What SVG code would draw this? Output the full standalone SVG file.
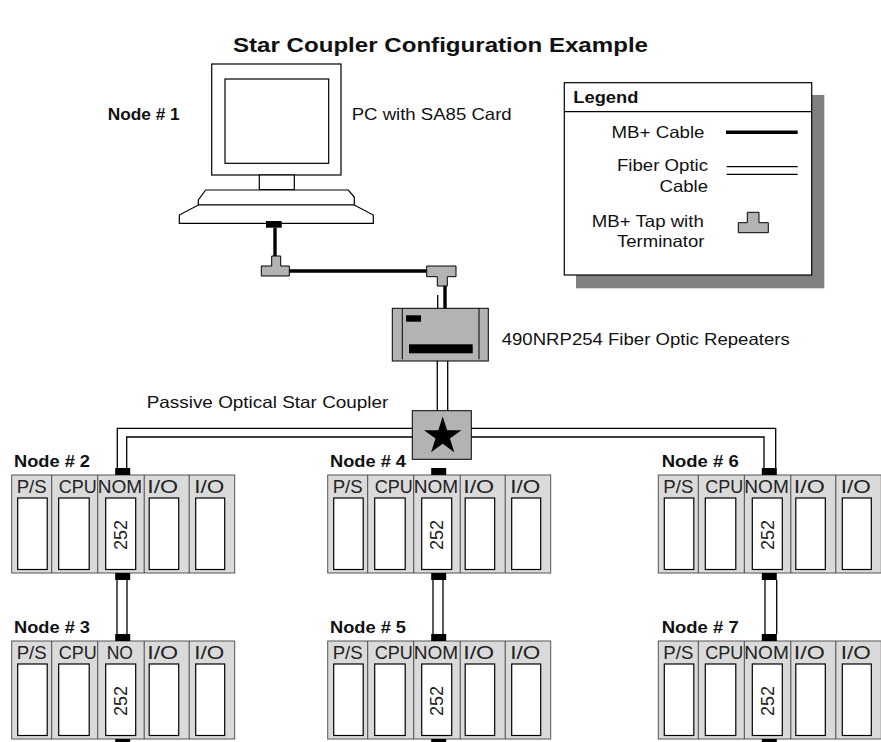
<svg xmlns="http://www.w3.org/2000/svg" xmlns:xlink="http://www.w3.org/1999/xlink" width="881" height="742" viewBox="0 0 881 742">
  <style>
    text { font-family: "Liberation Sans", Arial, Helvetica, sans-serif; fill: #111; }
    .title { font-size: 19.5px; font-weight: bold; }
    .bold { font-size: 16px; font-weight: bold; }
    .lbl { font-size: 16.5px; }
    .slot { font-size: 17.5px; fill: #222; }
    .num { font-size: 18px; fill: #222; }
    .outline { fill: #fff; stroke: #000; stroke-width: 1.2; }
    .gray { fill: #b3b3b3; stroke: #000; stroke-width: 1; }
    .rack { fill: #dadada; stroke: #555; stroke-width: 1; }
    .div { stroke: #444; stroke-width: 1; }
    .win { fill: #fff; stroke: #000; stroke-width: 1.2; }
    .plug { fill: #000; }
    .mb { fill: none; stroke: #000; stroke-width: 3.4; }
    .fiber { fill: none; stroke: #000; stroke-width: 1.3; }
  </style>
  <defs>
    <!-- chassis body shared by every rack node -->
    <g id="rackBody">
      <rect class="rack" x="0" y="0" width="223" height="98"/>
      <line class="div" x1="40" y1="0" x2="40" y2="98"/>
      <line class="div" x1="86" y1="0" x2="86" y2="98"/>
      <line class="div" x1="132.5" y1="0" x2="132.5" y2="98"/>
      <line class="div" x1="177.5" y1="0" x2="177.5" y2="98"/>
      <rect class="win" x="6" y="23" width="29.5" height="71.5"/>
      <rect class="win" x="47" y="23" width="30.5" height="71.5"/>
      <rect class="win" x="94" y="23" width="30" height="71.5"/>
      <rect class="win" x="137.5" y="23" width="29.5" height="71.5"/>
      <rect class="win" x="184" y="23" width="29" height="71.5"/>
      <!-- network port plugs, top and bottom -->
      <rect class="plug" x="103.5" y="-7" width="15" height="7"/>
      <rect class="plug" x="103.5" y="98" width="15" height="7"/>
    </g>
  </defs>

  <text class="title" x="233" y="52" textLength="415" lengthAdjust="spacingAndGlyphs">Star Coupler Configuration Example</text>

  <!-- Node 1: PC -->
  <g id="node1">
    <text class="bold" x="107.7" y="120" textLength="72" lengthAdjust="spacingAndGlyphs">Node # 1</text>
    <text class="lbl" x="351.7" y="120" textLength="160" lengthAdjust="spacingAndGlyphs">PC with SA85 Card</text>
    <rect class="outline" x="211.7" y="64" width="129.3" height="111"/>
    <rect class="outline" x="225" y="79" width="103.7" height="84.3"/>
    <rect class="outline" x="259.3" y="175" width="35" height="14.7"/>
    <polygon class="outline" points="205.7,190 348.3,190 354.3,197 354.3,205 198.3,205 198.3,200"/>
    <polygon class="outline" points="198.3,205 354.3,205 373.3,215 373.3,223.3 179.3,223.3 179.3,215"/>
    <rect class="plug" x="266" y="221" width="15.7" height="6.7"/>
  </g>

  <!-- Legend -->
  <g id="legend">
    <rect x="576" y="95" width="248.3" height="193.3" fill="#808080"/>
    <rect x="564.3" y="82.7" width="247.4" height="192.3" fill="#fff" stroke="#000" stroke-width="1.2"/>
    <line x1="564.3" y1="111.7" x2="811.7" y2="111.7" stroke="#000" stroke-width="1.2"/>
    <text class="bold" x="573.3" y="103.3" textLength="65" lengthAdjust="spacingAndGlyphs">Legend</text>
    <text class="lbl" x="611.5" y="138.3" textLength="93" lengthAdjust="spacingAndGlyphs">MB+ Cable</text>
    <line class="mb" x1="726" y1="132.3" x2="797.7" y2="132.3"/>
    <text class="lbl" x="617" y="170.7" textLength="91" lengthAdjust="spacingAndGlyphs">Fiber Optic</text>
    <text class="lbl" x="659.5" y="191.7" textLength="48.5" lengthAdjust="spacingAndGlyphs">Cable</text>
    <line class="fiber" x1="726.7" y1="166.7" x2="797.7" y2="166.7"/>
    <line class="fiber" x1="726.7" y1="174.3" x2="797.7" y2="174.3"/>
    <text class="lbl" x="591.8" y="226.7" textLength="112" lengthAdjust="spacingAndGlyphs">MB+ Tap with</text>
    <text class="lbl" x="617" y="247.3" textLength="87.5" lengthAdjust="spacingAndGlyphs">Terminator</text>
    <polygon class="gray" points="747.3,212.3 759,212.3 759,222.7 768.3,222.7 768.3,232.7 738.3,232.7 738.3,222.7 747.3,222.7"/>
  </g>

  <!-- Fiber optic repeater -->
  <g id="repeater">
    <rect class="gray" x="392.3" y="308.3" width="96" height="52.7"/>
    <line x1="402.3" y1="308.3" x2="402.3" y2="359.3" stroke="#000" stroke-width="1"/>
    <line x1="479" y1="308.3" x2="479" y2="359.3" stroke="#000" stroke-width="1"/>
    <rect class="plug" x="406" y="315.3" width="15" height="6.4"/>
    <rect class="plug" x="409" y="344.3" width="63.7" height="9"/>
    <text class="lbl" x="501.7" y="345" textLength="288" lengthAdjust="spacingAndGlyphs">490NRP254 Fiber Optic Repeaters</text>
  </g>

  <!-- Passive optical star coupler -->
  <g id="star">
    <text class="lbl" x="146.7" y="408.3" textLength="241.7" lengthAdjust="spacingAndGlyphs">Passive Optical Star Coupler</text>
    <rect class="gray" x="412.3" y="410.7" width="59" height="48.6"/>
    <polygon fill="#000" points="442.7,416.6 447.1,430.2 461.4,430.2 449.9,438.6 454.3,452.2 442.7,443.8 431.1,452.2 435.5,438.6 424,430.2 438.3,430.2"/>
  </g>

  <!-- Racks -->
  <g id="node2" transform="translate(11.7,475)">
    <text class="bold" x="2.3" y="-7.7" textLength="76" lengthAdjust="spacingAndGlyphs">Node # 2</text>
    <use xlink:href="#rackBody"/>
    <text class="slot" x="5" y="17.7" textLength="30" lengthAdjust="spacingAndGlyphs">P/S</text>
    <text class="slot" x="47" y="17.7" textLength="38" lengthAdjust="spacingAndGlyphs">CPU</text>
    <text class="slot" x="86" y="17.7" textLength="44.5" lengthAdjust="spacingAndGlyphs">NOM</text>
    <text class="slot" x="135.5" y="17.7" textLength="31" lengthAdjust="spacingAndGlyphs">I/O</text>
    <text class="slot" x="182.5" y="17.7" textLength="30" lengthAdjust="spacingAndGlyphs">I/O</text>
    <text class="num" transform="translate(115.5,60) rotate(-90)" text-anchor="middle" textLength="30" lengthAdjust="spacingAndGlyphs">252</text>
  </g>
  <g id="node3" transform="translate(11.7,641)">
    <text class="bold" x="2.3" y="-7.7" textLength="76" lengthAdjust="spacingAndGlyphs">Node # 3</text>
    <use xlink:href="#rackBody"/>
    <text class="slot" x="5" y="17.7" textLength="30" lengthAdjust="spacingAndGlyphs">P/S</text>
    <text class="slot" x="47" y="17.7" textLength="38" lengthAdjust="spacingAndGlyphs">CPU</text>
    <text class="slot" x="95" y="17.7">NO</text>
    <text class="slot" x="135.5" y="17.7" textLength="31" lengthAdjust="spacingAndGlyphs">I/O</text>
    <text class="slot" x="182.5" y="17.7" textLength="30" lengthAdjust="spacingAndGlyphs">I/O</text>
    <text class="num" transform="translate(115.5,60) rotate(-90)" text-anchor="middle" textLength="30" lengthAdjust="spacingAndGlyphs">252</text>
  </g>
  <g id="node4" transform="translate(327.7,475)">
    <text class="bold" x="2.3" y="-7.7" textLength="76" lengthAdjust="spacingAndGlyphs">Node # 4</text>
    <use xlink:href="#rackBody"/>
    <text class="slot" x="5" y="17.7" textLength="30" lengthAdjust="spacingAndGlyphs">P/S</text>
    <text class="slot" x="47" y="17.7" textLength="38" lengthAdjust="spacingAndGlyphs">CPU</text>
    <text class="slot" x="86" y="17.7" textLength="44.5" lengthAdjust="spacingAndGlyphs">NOM</text>
    <text class="slot" x="135.5" y="17.7" textLength="31" lengthAdjust="spacingAndGlyphs">I/O</text>
    <text class="slot" x="182.5" y="17.7" textLength="30" lengthAdjust="spacingAndGlyphs">I/O</text>
    <text class="num" transform="translate(115.5,60) rotate(-90)" text-anchor="middle" textLength="30" lengthAdjust="spacingAndGlyphs">252</text>
  </g>
  <g id="node5" transform="translate(327.7,641)">
    <text class="bold" x="2.3" y="-7.7" textLength="76" lengthAdjust="spacingAndGlyphs">Node # 5</text>
    <use xlink:href="#rackBody"/>
    <text class="slot" x="5" y="17.7" textLength="30" lengthAdjust="spacingAndGlyphs">P/S</text>
    <text class="slot" x="47" y="17.7" textLength="38" lengthAdjust="spacingAndGlyphs">CPU</text>
    <text class="slot" x="86" y="17.7" textLength="44.5" lengthAdjust="spacingAndGlyphs">NOM</text>
    <text class="slot" x="135.5" y="17.7" textLength="31" lengthAdjust="spacingAndGlyphs">I/O</text>
    <text class="slot" x="182.5" y="17.7" textLength="30" lengthAdjust="spacingAndGlyphs">I/O</text>
    <text class="num" transform="translate(115.5,60) rotate(-90)" text-anchor="middle" textLength="30" lengthAdjust="spacingAndGlyphs">252</text>
  </g>
  <g id="node6" transform="translate(658.3,475)">
    <text class="bold" x="3.4" y="-8.3" textLength="77" lengthAdjust="spacingAndGlyphs">Node # 6</text>
    <use xlink:href="#rackBody"/>
    <text class="slot" x="5" y="17.7" textLength="30" lengthAdjust="spacingAndGlyphs">P/S</text>
    <text class="slot" x="47" y="17.7" textLength="38" lengthAdjust="spacingAndGlyphs">CPU</text>
    <text class="slot" x="86" y="17.7" textLength="44.5" lengthAdjust="spacingAndGlyphs">NOM</text>
    <text class="slot" x="135.5" y="17.7" textLength="31" lengthAdjust="spacingAndGlyphs">I/O</text>
    <text class="slot" x="182.5" y="17.7" textLength="30" lengthAdjust="spacingAndGlyphs">I/O</text>
    <text class="num" transform="translate(115.5,60) rotate(-90)" text-anchor="middle" textLength="30" lengthAdjust="spacingAndGlyphs">252</text>
  </g>
  <g id="node7" transform="translate(658.3,641)">
    <text class="bold" x="3.4" y="-7.7" textLength="77" lengthAdjust="spacingAndGlyphs">Node # 7</text>
    <use xlink:href="#rackBody"/>
    <text class="slot" x="5" y="17.7" textLength="30" lengthAdjust="spacingAndGlyphs">P/S</text>
    <text class="slot" x="47" y="17.7" textLength="38" lengthAdjust="spacingAndGlyphs">CPU</text>
    <text class="slot" x="86" y="17.7" textLength="44.5" lengthAdjust="spacingAndGlyphs">NOM</text>
    <text class="slot" x="135.5" y="17.7" textLength="31" lengthAdjust="spacingAndGlyphs">I/O</text>
    <text class="slot" x="182.5" y="17.7" textLength="30" lengthAdjust="spacingAndGlyphs">I/O</text>
    <text class="num" transform="translate(115.5,60) rotate(-90)" text-anchor="middle" textLength="30" lengthAdjust="spacingAndGlyphs">252</text>
  </g>

  <!-- Cabling -->
  <g id="connectors">
    <!-- MB+ trunk from the PC through the taps into the repeater -->
    <line class="mb" x1="275" y1="227.7" x2="275" y2="256"/>
    <polygon class="gray" points="271.7,256 280.7,256 280.7,266 289.3,266 289.3,276 261.3,276 261.3,266 271.7,266"/>
    <line class="mb" x1="289.3" y1="271" x2="426.7" y2="271"/>
    <polygon class="gray" points="426.7,266 456,266 456,276.7 447.3,276.7 447.3,286 437.3,286 437.3,276.7 426.7,276.7"/>
    <line class="mb" x1="445" y1="286" x2="445" y2="308.3"/>
    <line class="fiber" x1="437.7" y1="295" x2="437.7" y2="308.3"/>
    <!-- fiber: repeater to star coupler -->
    <line class="fiber" x1="437.3" y1="361" x2="437.3" y2="410.7"/>
    <line class="fiber" x1="447.7" y1="361" x2="447.7" y2="410.7"/>
    <!-- fiber: star coupler to node 2 -->
    <polyline class="fiber" points="412.3,428.3 117.3,428.3 117.3,468"/>
    <polyline class="fiber" points="412.3,437 126.7,437 126.7,468"/>
    <!-- fiber: star coupler to node 6 -->
    <polyline class="fiber" points="471.3,428.3 775.7,428.3 775.7,468"/>
    <polyline class="fiber" points="471.3,437 764,437 764,468"/>
    <!-- fiber: node 2 to node 3 -->
    <line class="fiber" x1="117" y1="580" x2="117" y2="634"/>
    <line class="fiber" x1="127" y1="580" x2="127" y2="634"/>
    <!-- fiber: node 4 to node 5 -->
    <line class="fiber" x1="433" y1="580" x2="433" y2="634"/>
    <line class="fiber" x1="443" y1="580" x2="443" y2="634"/>
    <!-- fiber: node 6 to node 7 -->
    <line class="fiber" x1="765" y1="580" x2="765" y2="634"/>
    <line class="fiber" x1="776.7" y1="580" x2="776.7" y2="634"/>
  </g>
</svg>
